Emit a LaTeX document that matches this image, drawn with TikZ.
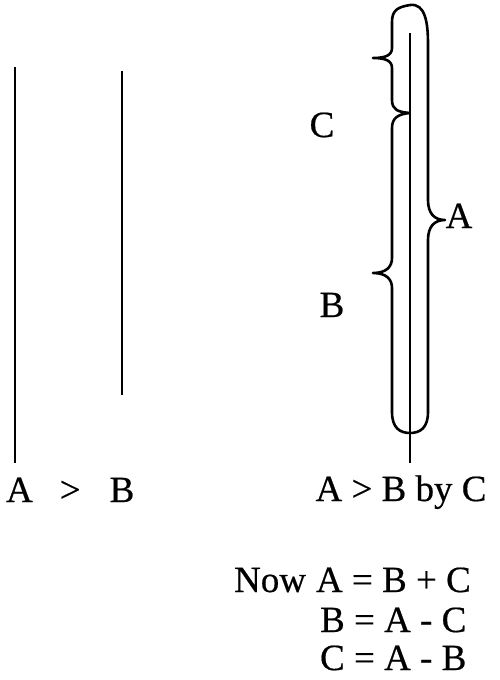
\documentclass[tikz,border=0pt]{standalone}
\usepackage{fontspec}
\setmainfont[FakeBold=0.5]{Liberation Serif}
\tikzstyle{lbl}=[inner sep=0pt, font=\fontsize{37}{40}\selectfont]
\begin{document}
\begin{tikzpicture}[x=1pt, y=-1pt, line width=2.2pt]
	\useasboundingbox (0,0) rectangle (500,680);
	\foreach \x/\t/\b in {15/67/463, 122/71/395} {
		\draw (\x,\t) -- (\x,\b);
	}
	\draw (410,33) -- (410,463);
	\draw[line width=2.6pt, line join=round] (410,113) .. controls (398,112) and (392,110) .. (392,100) -- (392,68)
		.. controls (392,61) and (386,58) .. (373,58) .. controls (386,58) and (392,55) .. (392,48) -- (392,22)
		.. controls (392,10) and (398,7) .. (410,5) .. controls (425,3) and (428,22) .. (428,44) -- (428,200)
		.. controls (428,213) and (434,220) .. (445,220) .. controls (434,220) and (428,227) .. (428,240) -- (428,412)
		.. controls (428,428) and (420,433) .. (410,433) .. controls (400,433) and (392,428) .. (392,412) -- (392,288)
		.. controls (392,279) and (386,273) .. (373,273) .. controls (386,273) and (392,267) .. (392,258) -- (392,128)
		.. controls (392,118) and (398,114) .. (410,113);
	\node[lbl, anchor=base] (c) at (322,137) {C};
	\node[lbl, anchor=base] (b) at (332,317) {B};
	\node[lbl, anchor=base] (a) at (459,228) {A};
	\node[lbl, anchor=base west] (ineq) at (5,502) {A\hspace{27pt}>\hspace{29pt}B};
	\node[lbl, anchor=base] (ineqby) at (401,501) {A > B by C};
	\node[lbl, anchor=base west] (now) at (233,592) {Now\hspace{10pt}A = B + C};
	\node[lbl, anchor=base west] (eqb) at (319,632) {B = A - C};
	\node[lbl, anchor=base west] (eqc) at (319,670) {C = A - B};
\end{tikzpicture}
\end{document}
